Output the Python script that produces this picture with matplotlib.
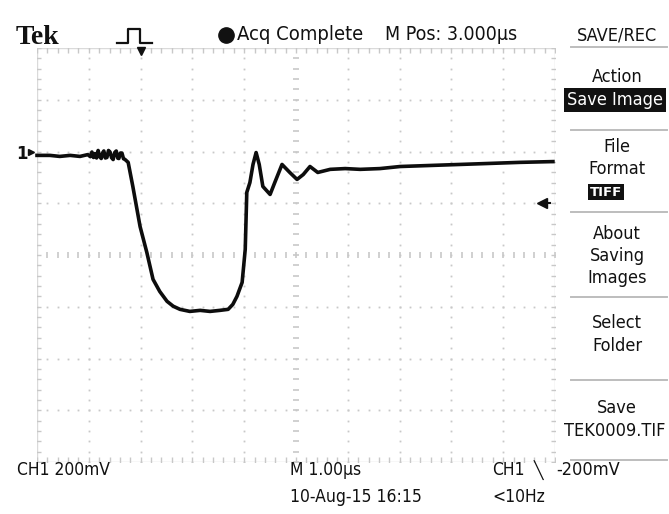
import numpy as np
from matplotlib import pyplot as plt
from matplotlib import font_manager
from matplotlib.font_manager import FontProperties

# 示波器截图 (Tek) 复刻
W, H = 669, 514

# 找一个窄体字体, 没有就用 Liberation Sans
narrow_file = None
for f in font_manager.fontManager.ttflist:
    name = f.name.lower()
    st = str(f.stretch).lower()
    if f.weight in (400, 'normal', 'regular') and f.style == 'normal' and \
            ('narrow' in name or 'condensed' in name or 'condensed' in st or st in ('700', '600', '650')):
        if 'extra' in name or 'ultra' in name:
            continue
        narrow_file = f.fname
        if 'dejavu' in name or 'liberation' in name:
            break

def fp(size):
    if narrow_file:
        return FontProperties(fname=narrow_file, size=size)
    return FontProperties(family='Liberation Sans', size=size)

# CH1 波形: 时间 (us), 电压 (mV)
t_us = [0.00, 0.25, 0.44, 0.64, 0.83, 0.98, 1.03, 1.06, 1.09, 1.12, 1.15, 1.18, 1.21,
        1.24, 1.27, 1.29, 1.32, 1.35, 1.38, 1.41, 1.44, 1.47, 1.50, 1.53, 1.56,
        1.58, 1.61, 1.64, 1.67, 1.70, 1.76, 1.85, 1.99, 2.12, 2.24, 2.37,
        2.51, 2.63, 2.76, 2.95, 3.15, 3.34, 3.53, 3.69, 3.78, 3.86, 3.96, 4.02,
        4.05, 4.11, 4.17, 4.23, 4.29, 4.36, 4.50, 4.59, 4.73, 4.88, 5.02, 5.14,
        5.27, 5.42, 5.66, 5.95, 6.24, 6.62, 7.01, 7.59, 8.17, 8.75, 9.32, 9.96]
v_mv = [-15, -15, -19, -15, -19, -12, -20, -2, -23, -8, -25, 4, -20,
        -27, -4, 2, -25, -23, 4, -2, -24, -31, -4, 2, -26,
        -27, -6, -6, -28, -31, -42, -135, -290, -390, -494, -541,
        -579, -598, -610, -618, -614, -618, -614, -610, -591, -560, -506, -378,
        -158, -120, -50, -4, -50, -135, -166, -120, -50, -81, -108, -89,
        -58, -81, -69, -66, -69, -66, -58, -54, -50, -46, -42, -39]

volts_div = 200      # mV/div
time_div = 1.0       # us/div
ground_div = 2       # CH1 地线位置 (相对中心, 格)
trig_level = -200    # mV
trig_time = 2.0      # us (从左边起)

x_div, y_div = 10, 8
ylo, yhi = -(y_div / 2 + ground_div) * volts_div, (y_div / 2 - ground_div) * volts_div

fig = plt.figure(figsize=(W / 100, H / 100), dpi=100)
fig.patch.set_facecolor('white')

def px(x, y):
    return x / W, 1 - y / H

gl, gt, gr, gb = 37, 48, 555, 462
ax = fig.add_axes([gl / W, 1 - gb / H, (gr - gl) / W, (gb - gt) / H])
ax.set_xlim(0, x_div * time_div)
ax.set_ylim(ylo, yhi)
ax.axis('off')

gc = '#c8c8c8'
# 网格点
yc = (ylo + yhi) / 2
xc = x_div * time_div / 2
sub_y = np.arange(ylo, yhi + 1, volts_div / 5)
sub_x = np.arange(0, x_div * time_div + 1e-6, time_div / 5)
for k in range(1, x_div):
    xv = k * time_div
    if abs(xv - xc) < 1e-6:
        continue
    ax.plot([xv] * len(sub_y), sub_y, ls='none', marker='s', ms=1.3, color=gc, mec='none')
for k in range(1, y_div):
    yv = ylo + k * volts_div
    if abs(yv - yc) < 1e-6:
        continue
    ax.plot(sub_x, [yv] * len(sub_x), ls='none', marker='s', ms=1.3, color=gc, mec='none')
# 中心十字刻度
ax.plot([xc] * len(sub_y), sub_y, ls='none', marker='_', ms=5, mew=1.2, color=gc)
ax.plot(sub_x, [yc] * len(sub_x), ls='none', marker='|', ms=5, mew=1.2, color=gc)
# 边框
ax.plot([0, 10, 10, 0, 0], [ylo, ylo, yhi, yhi, ylo], color='#dadada', lw=1.0)
ax.plot([0.02] * len(sub_y), sub_y, ls='none', marker='_', ms=4, mew=1.0, color=gc)
ax.plot([9.98] * len(sub_y), sub_y, ls='none', marker='_', ms=4, mew=1.0, color=gc)
ax.plot(sub_x, [yhi - 8] * len(sub_x), ls='none', marker='|', ms=4, mew=1.0, color=gc)
ax.plot(sub_x, [ylo + 8] * len(sub_x), ls='none', marker='|', ms=4, mew=1.0, color=gc)

# 波形
ax.plot(t_us, v_mv, color='#0d0d0d', lw=2.6, solid_joinstyle='round', clip_on=False)

# 触发标记
ax.plot(trig_time, yhi - 12, marker='v', ms=6, color='#111111', clip_on=False)
ax.plot([trig_time, trig_time], [yhi - 2, yhi - 12], color='#111111', lw=1.5, clip_on=False)
ax.plot(9.75, trig_level, marker='<', ms=7, color='#111111', clip_on=False)
ax.plot([9.75, 9.9], [trig_level, trig_level], color='#111111', lw=1.5, clip_on=False)
fig.text(*px(16, 154), '1', fontsize=12, fontweight='bold', family='DejaVu Sans',
         va='center', ha='left', color='#111111')
ax.plot(-0.12, 0, marker='>', ms=5, color='#111111', clip_on=False)

txt = dict(color='#111111', va='center')
# 顶部
fig.text(*px(16, 37), 'Tek', fontsize=20, fontweight='bold', family='Liberation Serif', va='center', color='#111111')
fig.lines.append(plt.Line2D([117 / W, 128 / W, 128 / W, 140 / W, 140 / W, 152 / W],
                            [1 - 43 / H, 1 - 43 / H, 1 - 29 / H, 1 - 29 / H, 1 - 43 / H, 1 - 43 / H],
                            transform=fig.transFigure, color='#111111', lw=1.6))
fig.lines.append(plt.Line2D([226 / W], [1 - 35 / H], transform=fig.transFigure, marker='o',
                            ms=11, color='#111111'))
fig.text(*px(237, 35), 'Acq Complete', fontproperties=fp(14.5), **txt)
fig.text(*px(385, 35), 'M Pos: 3.000µs', fontproperties=fp(14), **txt)
fig.text(*px(617, 35), 'SAVE/REC', fontproperties=fp(13), ha='center', **txt)

# 右侧菜单
mf = fp(13)
fig.text(*px(617, 77), 'Action', fontproperties=mf, ha='center', **txt)
fig.text(*px(615, 100), 'Save Image', fontproperties=mf, ha='center', color='white', va='center',
         bbox=dict(boxstyle='square,pad=0.15', fc='#111111', ec='none'))
fig.text(*px(617, 147), 'File', fontproperties=mf, ha='center', **txt)
fig.text(*px(617, 169), 'Format', fontproperties=mf, ha='center', **txt)
fig.text(*px(606, 192), 'TIFF', fontsize=9.5, fontweight='bold', family='DejaVu Sans', ha='center',
         color='white', va='center', bbox=dict(boxstyle='square,pad=0.15', fc='#111111', ec='none'))
fig.text(*px(617, 234), 'About', fontproperties=mf, ha='center', **txt)
fig.text(*px(617, 256), 'Saving', fontproperties=mf, ha='center', **txt)
fig.text(*px(617, 278), 'Images', fontproperties=mf, ha='center', **txt)
fig.text(*px(617, 323), 'Select', fontproperties=mf, ha='center', **txt)
fig.text(*px(617, 346), 'Folder', fontproperties=mf, ha='center', **txt)
fig.text(*px(617, 408), 'Save', fontproperties=mf, ha='center', **txt)
fig.text(*px(615, 431), 'TEK0009.TIF', fontproperties=fp(13), ha='center', **txt)
for sy in [47, 130, 212, 297, 380, 460]:
    fig.lines.append(plt.Line2D([571 / W, 667 / W], [1 - sy / H, 1 - sy / H],
                                transform=fig.transFigure, color='#bdbdbd', lw=1.4))

# 底部
bf = fp(12.5)
fig.text(*px(17, 470), 'CH1 200mV', fontproperties=bf, **txt)
fig.text(*px(290, 470), 'M 1.00µs', fontproperties=bf, **txt)
fig.text(*px(492, 470), 'CH1', fontproperties=bf, **txt)
fig.text(*px(534, 470), '╲', fontproperties=bf, **txt)
fig.text(*px(556, 470), '-200mV', fontproperties=fp(13), **txt)
fig.text(*px(290, 497), '10-Aug-15 16:15', fontproperties=bf, **txt)
fig.text(*px(492, 497), '<10Hz', fontproperties=bf, **txt)

fig.savefig('out.png', dpi=100)
